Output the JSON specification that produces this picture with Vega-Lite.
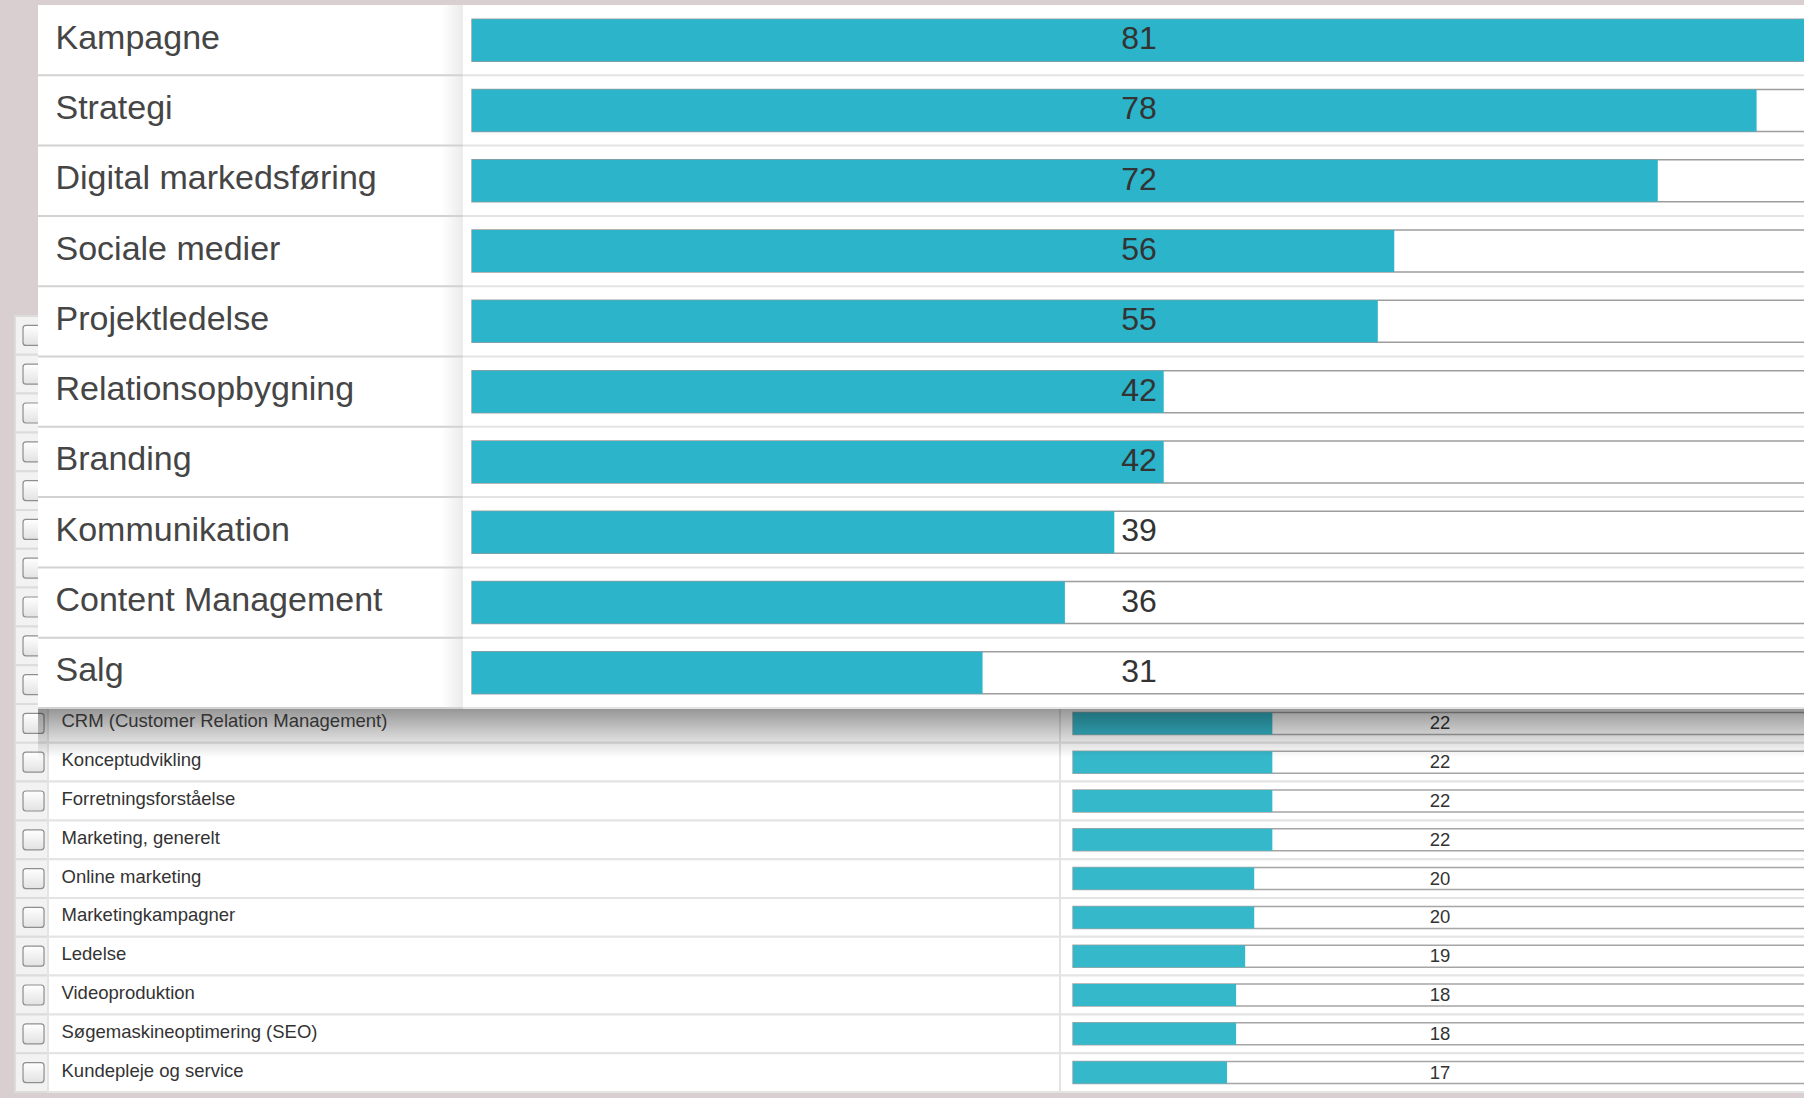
{
  "$schema": "https://vega.github.io/schema/vega-lite/v6.json",
  "width": 1804,
  "height": 1098,
  "autosize": {"type": "none"},
  "padding": 0,
  "background": "#d9cfd0",
  "config": {"view": {"stroke": null}, "font": "Liberation Sans"},
  "datasets": {
    "top": [
      {"skill": "Kampagne", "count": 81},
      {"skill": "Strategi", "count": 78},
      {"skill": "Digital markedsføring", "count": 72},
      {"skill": "Sociale medier", "count": 56},
      {"skill": "Projektledelse", "count": 55},
      {"skill": "Relationsopbygning", "count": 42},
      {"skill": "Branding", "count": 42},
      {"skill": "Kommunikation", "count": 39},
      {"skill": "Content Management", "count": 36},
      {"skill": "Salg", "count": 31}
    ],
    "bottom": [
      {"skill": "CRM (Customer Relation Management)", "count": 22},
      {"skill": "Konceptudvikling", "count": 22},
      {"skill": "Forretningsforståelse", "count": 22},
      {"skill": "Marketing, generelt", "count": 22},
      {"skill": "Online marketing", "count": 20},
      {"skill": "Marketingkampagner", "count": 20},
      {"skill": "Ledelse", "count": 19},
      {"skill": "Videoproduktion", "count": 18},
      {"skill": "Søgemaskineoptimering (SEO)", "count": 18},
      {"skill": "Kundepleje og service", "count": 17}
    ]
  },
  "layer": [
    {
      "data": {"name": "top"},
      "encoding": {
        "y": {"field": "skill", "type": "nominal", "sort": null, "scale": {"range": [316, 704], "paddingInner": 0, "paddingOuter": 0}, "axis": null}
      },
      "layer": [
        {
          "mark": {"type": "bar", "fill": "#f2f2f2", "stroke": "#dcdcdc", "strokeWidth": 2},
          "encoding": {
            "x": {"datum": -116.75, "type": "quantitative", "scale": {"domain": [0, 81], "range": [1073, 1807], "nice": false, "zero": false}, "axis": null},
            "x2": {"datum": -113.11}
          }
        },
        {
          "mark": {"type": "bar", "fill": {"gradient": "linear", "x1": 0, "y1": 0, "x2": 0, "y2": 1, "stops": [{"offset": 0, "color": "#ffffff"}, {"offset": 1, "color": "#e2e2e2"}]}, "stroke": "#8e8e8e", "strokeWidth": 1.2, "cornerRadius": 3, "height": 20},
          "encoding": {
            "x": {"datum": -115.87, "type": "quantitative", "axis": null},
            "x2": {"datum": -113.55}
          }
        }
      ]
    },
    {
      "data": {"name": "bottom"},
      "encoding": {
        "y": {
          "field": "skill", "type": "nominal", "sort": null,
          "scale": {"range": [704, 1092], "paddingInner": 0, "paddingOuter": 0},
          "axis": {"orient": "left", "offset": -61, "domain": false, "ticks": false, "tickSize": 0, "grid": false, "title": null, "labelAlign": "left", "labelBaseline": "middle", "labelPadding": 0, "labelOffset": -2, "labelFont": "Liberation Sans", "labelFontSize": 18.5, "labelColor": "#333333", "labelLimit": 1000, "labelOverlap": false, "zindex": 1}
        }
      },
      "layer": [
        {
          "mark": {"type": "bar", "fill": "#f2f2f2", "stroke": "#dcdcdc", "strokeWidth": 2},
          "encoding": {
            "x": {"datum": -116.75, "type": "quantitative", "scale": {"domain": [0, 81], "range": [1073, 1807], "nice": false, "zero": false}, "axis": null},
            "x2": {"datum": -113.11}
          }
        },
        {
          "mark": {"type": "bar", "fill": "#ffffff", "stroke": "#e4e4e4", "strokeWidth": 2},
          "encoding": {
            "x": {"datum": -113.11, "type": "quantitative", "axis": null},
            "x2": {"datum": -1.43}
          }
        },
        {
          "mark": {"type": "bar", "fill": "#ffffff", "stroke": "#e4e4e4", "strokeWidth": 2},
          "encoding": {
            "x": {"datum": -1.43, "type": "quantitative", "axis": null},
            "x2": {"datum": 83}
          }
        },
        {
          "mark": {"type": "bar", "fill": {"gradient": "linear", "x1": 0, "y1": 0, "x2": 0, "y2": 1, "stops": [{"offset": 0, "color": "#ffffff"}, {"offset": 1, "color": "#e2e2e2"}]}, "stroke": "#8e8e8e", "strokeWidth": 1.2, "cornerRadius": 3, "height": 20},
          "encoding": {
            "x": {"datum": -115.87, "type": "quantitative", "axis": null},
            "x2": {"datum": -113.55}
          }
        },
        {
          "mark": {"type": "bar", "fill": "#ffffff", "stroke": "#a5a5a5", "strokeWidth": 1.5, "height": 22},
          "encoding": {
            "x": {"datum": 0, "type": "quantitative", "axis": null},
            "x2": {"datum": 83}
          }
        },
        {
          "mark": {"type": "bar", "fill": "#36b8cb", "height": 22},
          "encoding": {
            "x": {"field": "count", "type": "quantitative", "axis": null}
          }
        },
        {
          "mark": {"type": "text", "fontSize": 18.5, "font": "Liberation Sans", "color": "#333333", "align": "center", "baseline": "middle"},
          "encoding": {
            "x": {"datum": 40.5, "type": "quantitative", "axis": null},
            "text": {"field": "count", "type": "quantitative"}
          }
        }
      ]
    },
    {
      "data": {"name": "top"},
      "encoding": {
        "y": {
          "field": "skill", "type": "nominal", "sort": null,
          "scale": {"range": [5, 708], "paddingInner": 0, "paddingOuter": 0},
          "axis": {"orient": "left", "offset": -55, "domain": false, "ticks": false, "tickSize": 0, "grid": false, "title": null, "labelAlign": "left", "labelBaseline": "middle", "labelPadding": 0, "labelOffset": -1.5, "labelFont": "Liberation Sans", "labelFontSize": 34, "labelColor": "#454545", "labelLimit": 1000, "labelOverlap": false, "zindex": 1}
        }
      },
      "layer": [
        {
          "mark": {"type": "bar", "height": 50, "yOffset": 60, "fill": {"gradient": "linear", "x1": 0, "y1": 0, "x2": 0, "y2": 1, "stops": [{"offset": 0, "color": "rgba(0,0,0,0.42)"}, {"offset": 0.5, "color": "rgba(0,0,0,0.2)"}, {"offset": 1, "color": "rgba(0,0,0,0)"}]}},
          "encoding": {
            "x": {"datum": -26.35, "type": "quantitative", "scale": {"domain": [0, 81], "range": [472, 1806], "nice": false, "zero": false}, "axis": null},
            "x2": {"datum": 83}
          }
        },
        {
          "mark": {"type": "bar", "fill": "#ffffff"},
          "encoding": {
            "x": {"datum": -26.35, "type": "quantitative", "axis": null},
            "x2": {"datum": 83}
          }
        },
        {
          "mark": {"type": "bar", "fill": {"gradient": "linear", "x1": 0, "y1": 0, "x2": 1, "y2": 0, "stops": [{"offset": 0, "color": "#ffffff"}, {"offset": 0.95, "color": "#ffffff"}, {"offset": 1, "color": "#ebebeb"}]}},
          "encoding": {
            "x": {"datum": -26.35, "type": "quantitative", "axis": null},
            "x2": {"datum": -0.55}
          }
        },
        {
          "mark": {"type": "rule", "stroke": "#d2d2d2", "strokeWidth": 2, "yOffset": 35.15},
          "encoding": {
            "x": {"datum": -26.35, "type": "quantitative", "axis": null},
            "x2": {"datum": -0.55}
          }
        },
        {
          "mark": {"type": "rule", "stroke": "#e4e4e4", "strokeWidth": 2, "yOffset": 35.15},
          "encoding": {
            "x": {"datum": -0.55, "type": "quantitative", "axis": null},
            "x2": {"datum": 83}
          }
        },
        {
          "mark": {"type": "bar", "fill": "#ffffff", "stroke": "#9d9d9d", "strokeWidth": 1.5, "height": 42},
          "encoding": {
            "x": {"datum": 0, "type": "quantitative", "axis": null},
            "x2": {"datum": 83}
          }
        },
        {
          "mark": {"type": "bar", "fill": "#2bb4ca", "height": 42},
          "encoding": {
            "x": {"field": "count", "type": "quantitative", "axis": null}
          }
        },
        {
          "mark": {"type": "text", "fontSize": 32, "font": "Liberation Sans", "color": "#333333", "align": "center", "baseline": "middle", "dy": -1},
          "encoding": {
            "x": {"datum": 40.5, "type": "quantitative", "axis": null},
            "text": {"field": "count", "type": "quantitative"}
          }
        }
      ]
    }
  ],
  "resolve": {"scale": {"x": "independent", "y": "independent"}, "axis": {"x": "independent", "y": "independent"}}
}
